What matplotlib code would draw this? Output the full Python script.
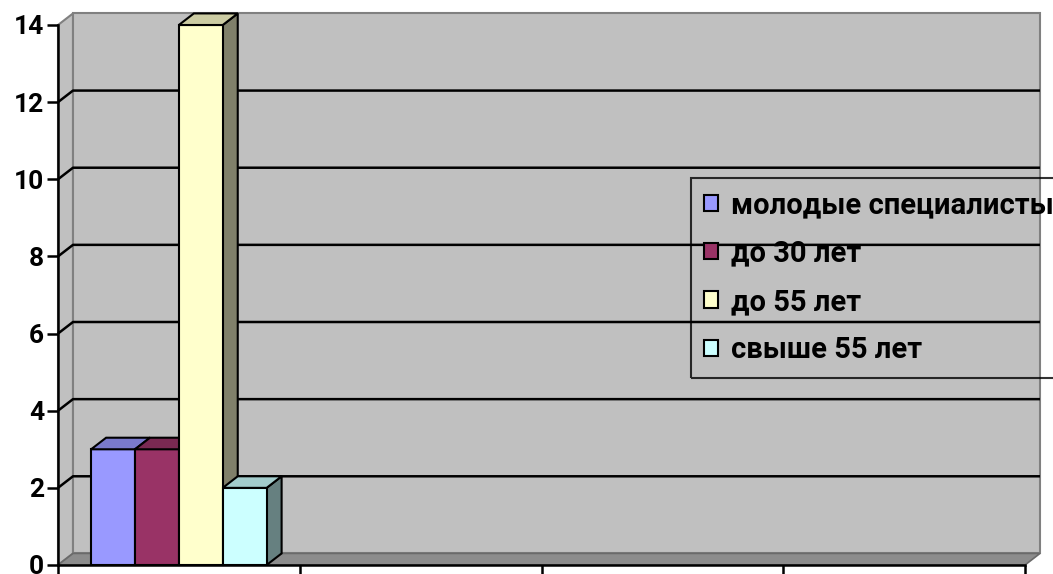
import matplotlib

matplotlib.use("Agg")
import matplotlib.pyplot as plt
from matplotlib.patches import Polygon, Patch

# data
series = ["молодые специалисты", "до 30 лет", "до 55 лет", "свыше 55 лет"]
values = [3, 3, 14, 2]
front_colors = ["#9999FF", "#993366", "#FFFFCC", "#CCFFFF"]
side_colors = ["#5C5C99", "#5C1F3D", "#80806A", "#668080"]
top_colors = ["#7A7ACC", "#7A2952", "#CCCCA3", "#A3CCCC"]
yticks = [0, 2, 4, 6, 8, 10, 12, 14]
n_slots = 4  # category slots on the x axis

plt.rcParams["font.family"] = ["Roboto", "Noto Sans", "DejaVu Sans"]
plt.rcParams["font.weight"] = "bold"

W, H = 1053, 574
fig = plt.figure(figsize=(W / 100, H / 100), dpi=100)
fig.patch.set_facecolor("white")
ax = fig.add_axes([58 / W, 9 / H, 967 / W, 540 / H])
ax.set_xlim(0, n_slots)
ax.set_ylim(0, 14)
ax.set_facecolor("none")

dx, dy = 0.062, 0.3  # depth offset in data units
ymax = 14
wall = "#C0C0C0"
edge = "#808080"

# walls and floor
ax.add_patch(Polygon([(0, 0), (dx, dy), (dx, ymax + dy), (0, ymax)],
                     closed=True, fc=wall, ec=edge, lw=1.5, clip_on=False, zorder=0))
ax.add_patch(Polygon([(dx, dy), (n_slots + dx, dy), (n_slots + dx, ymax + dy), (dx, ymax + dy)],
                     closed=True, fc=wall, ec=edge, lw=1.5, clip_on=False, zorder=0))
ax.add_patch(Polygon([(0, 0), (dx, dy), (n_slots + dx, dy), (n_slots, 0)],
                     closed=True, fc="#8C8C8C", ec="#6A6A6A", lw=1.2, clip_on=False, zorder=0.5))

# gridlines on back and side walls
for v in yticks[1:-1]:
    ax.plot([0, dx, n_slots + dx], [v, v + dy, v + dy], color="black", lw=1.8,
            clip_on=False, zorder=0.8, solid_capstyle="butt")

# 3D bars, all in the first category slot
bw = 0.1815
x0 = 0.137
for i, v in enumerate(values):
    x = x0 + i * bw
    z = 2 + i * 0.1
    ax.add_patch(Polygon([(x, 0), (x + bw, 0), (x + bw, v), (x, v)], closed=True,
                         fc=front_colors[i], ec="black", lw=1.5, zorder=z + 0.05,
                         clip_on=False))
    ax.add_patch(Polygon([(x + bw, 0), (x + bw + dx, dy), (x + bw + dx, v + dy), (x + bw, v)],
                         closed=True, fc=side_colors[i], ec="black", lw=1.5, zorder=z,
                         clip_on=False))
    ax.add_patch(Polygon([(x, v), (x + dx, v + dy), (x + bw + dx, v + dy), (x + bw, v)],
                         closed=True, fc=top_colors[i], ec="black", lw=1.5, zorder=z + 0.06,
                         clip_on=False))

# axes
for s in ("top", "right"):
    ax.spines[s].set_visible(False)
for s in ("left", "bottom"):
    ax.spines[s].set_linewidth(1.8)
    ax.spines[s].set_zorder(3)
ax.set_yticks(yticks)
ax.set_yticklabels([str(t) for t in yticks], fontsize=19, fontweight="bold")
ax.set_xticks(range(n_slots + 1))
ax.set_xticklabels([])
ax.tick_params(axis="y", direction="out", length=8, width=1.8, pad=2)
ax.tick_params(axis="x", direction="out", length=9, width=1.8)

handles = [Patch(fc=c, ec="black", lw=1.5) for c in front_colors]
leg = fig.legend(handles, series, loc="upper left",
                 bbox_to_anchor=(691 / W, 1 - 178 / H), bbox_transform=fig.transFigure,
                 prop={"weight": "bold", "size": 21},
                 frameon=True, fancybox=False, borderaxespad=0, borderpad=0.45,
                 handlelength=0.48, handleheight=0.48, handletextpad=0.45,
                 labelspacing=0.7)
fr = leg.get_frame()
fr.set_facecolor("none")
fr.set_edgecolor("black")
fr.set_linewidth(1.5)

fig.savefig("out.png", dpi=100)
